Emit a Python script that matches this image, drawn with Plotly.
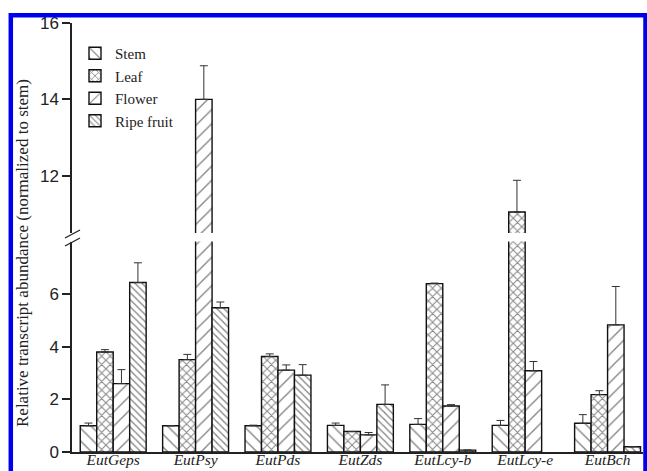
import plotly.graph_objects as go

genes = ["EutGeps", "EutPsy", "EutPds", "EutZds", "EutLcy-b", "EutLcy-e", "EutBch"]
tissues = ["Stem", "Leaf", "Flower", "Ripe fruit"]

stem = [1.00, 1.00, 1.00, 1.01, 1.05, 1.01, 1.09]
leaf = [3.80, 3.51, 3.63, 0.78, 6.40, 11.05, 2.18]
flower = [2.60, 14.00, 3.11, 0.65, 1.75, 3.09, 4.83]
ripe = [6.44, 5.48, 2.92, 1.81, 0.07, None, 0.20]

stem_sd = [0.10, None, 0.02, 0.09, 0.22, 0.19, 0.33]
leaf_sd = [0.09, 0.20, 0.10, None, 0.02, 0.83, 0.15]
flower_sd = [0.53, 0.88, 0.20, 0.09, 0.05, 0.35, 1.46]
ripe_sd = [0.75, 0.22, 0.40, 0.74, None, None, None]

lower_ticks = [0, 2, 4, 6]
upper_ticks = [12, 14, 16]
lower_range = [0, 8]
upper_range = [10.5, 16]

values = [stem, leaf, flower, ripe]
sds = [stem_sd, leaf_sd, flower_sd, ripe_sd]
patterns = [
    dict(shape="\\", size=9, solidity=0.16),
    dict(shape="x", size=6, solidity=0.32),
    dict(shape="/", size=10, solidity=0.14),
    dict(shape="\\", size=5, solidity=0.28),
]

W, H = 647, 471
ml, mr, mt, mb = 72, 4, 23, 19
ph = H - mt - mb
pw = W - ml - mr
def py(p):  # pixel y -> paper
    return (H - mb - p) / ph
def px(p):
    return (p - ml) / pw

fig = go.Figure()
for axis in ["y", "y2"]:
    for name, v, sd, pat in zip(tissues, values, sds, patterns):
        fig.add_trace(go.Bar(
            x=genes, y=v, name=name, yaxis=axis, xaxis="x",
            showlegend=(axis == "y"),
            marker=dict(color="white", line=dict(color="#111111", width=1.4),
                        pattern=dict(fgcolor="#111111", bgcolor="white", **pat)),
            error_y=dict(type="data", symmetric=False, array=sd,
                         arrayminus=[0] * len(sd), color="#333333",
                         thickness=1, width=4),
        ))

serif = "Liberation Serif, Times New Roman, serif"
sans = "Liberation Sans, Arial, sans-serif"

fig.update_layout(
    width=W, height=H,
    margin=dict(l=ml, r=mr, t=mt, b=mb, autoexpand=False),
    paper_bgcolor="white", plot_bgcolor="white",
    barmode="group", bargap=0.2, bargroupgap=0,
    showlegend=True,
    legend=dict(x=px(75), y=py(37), xanchor="left", yanchor="top",
                font=dict(family=serif, size=15, color="#222"),
                bgcolor="rgba(0,0,0,0)", tracegroupgap=0),
    xaxis=dict(anchor="y", range=[-0.5, 6.43], showline=True, linecolor="#222",
               linewidth=1.5, ticks="", showgrid=False, zeroline=False,
               automargin=False,
               tickvals=genes, ticktext=[f"<i>{g}</i>" for g in genes],
               tickfont=dict(family=serif, size=15.5, color="#222"),
               ticklabelstandoff=-7),
    yaxis=dict(domain=[0, py(241.5)], range=lower_range, tickvals=lower_ticks,
               automargin=False,
               showline=True, linecolor="#222", linewidth=1.5, ticks="outside",
               ticklen=8, tickwidth=1.5, tickcolor="#222", showgrid=False, zeroline=False,
               tickfont=dict(family=sans, size=17, color="#222")),
    yaxis2=dict(domain=[py(233), 1], range=upper_range, tickvals=upper_ticks,
                anchor="x", automargin=False,
                showline=True, linecolor="#222", linewidth=1.5, ticks="outside",
                ticklen=8, tickwidth=1.5, tickcolor="#222", showgrid=False, zeroline=False,
                tickfont=dict(family=sans, size=17, color="#222")),
)

fig.add_annotation(
    text="Relative transcript abundance (normalized to stem)",
    xref="paper", yref="paper", x=px(22), y=py(253), textangle=-90,
    showarrow=False, xanchor="center", yanchor="middle",
    font=dict(family=serif, size=17, color="#222"),
)

# axis break marks
for off in [0, 8]:
    fig.add_shape(type="line", xref="paper", yref="paper",
                  x0=px(65), y0=py(238 + off), x1=px(80), y1=py(230 + off),
                  line=dict(color="#222", width=1.3))

# blue frame
fig.add_shape(type="rect", xref="paper", yref="paper",
              x0=px(10.8), x1=px(645.5), y0=py(490), y1=py(15.3),
              line=dict(color="#0000ee", width=4.5), layer="above")

fig.write_html("out.html", config={"displayModeBar": False},
               post_script="document.body.style.margin='0';document.body.style.overflow='hidden';")
